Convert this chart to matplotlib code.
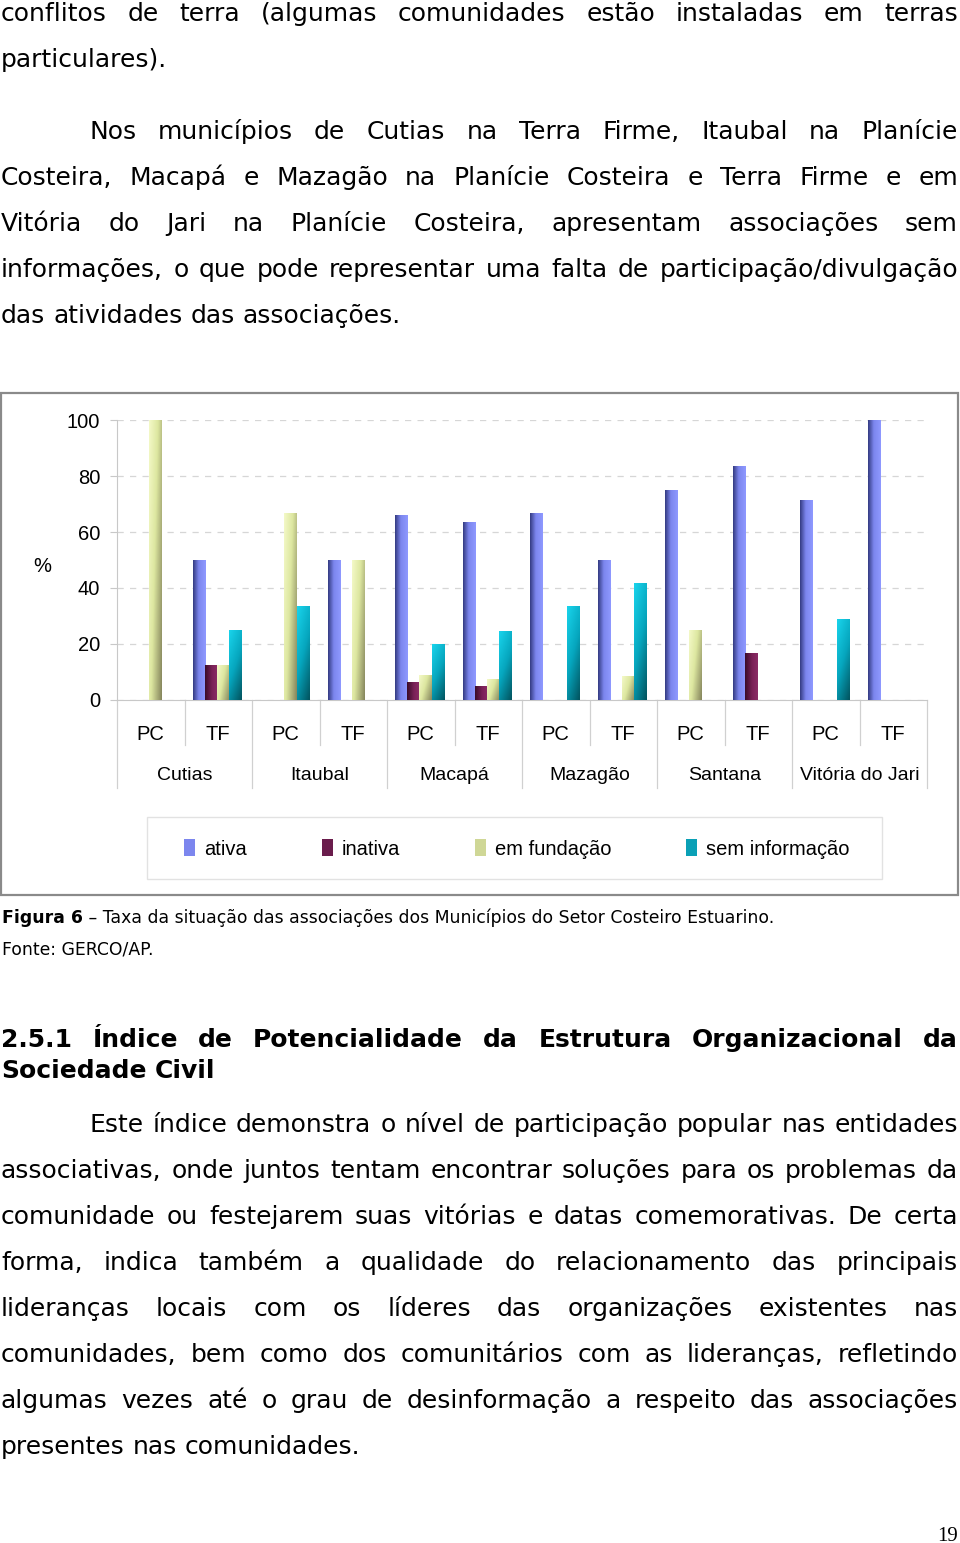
import numpy as np
import matplotlib
matplotlib.use("Agg")
import matplotlib.pyplot as plt
import matplotlib.transforms as mtransforms
from matplotlib.colors import LinearSegmentedColormap
from matplotlib.patches import Rectangle, Patch

# -----------------------------
# DATA (%)
# -----------------------------
municipios = ["Cutias", "Itaubal", "Macapá", "Mazagão", "Santana", "Vitória do Jari"]
setores = ["PC", "TF"]
series_names = ["ativa", "inativa", "em fundação", "sem informação"]

ativa = [0, 50, 0, 50, 66, 63.4, 66.7, 50, 75, 83.3, 71.4, 100]
inativa = [0, 12.5, 0, 0, 6.2, 5, 0, 0, 0, 16.7, 0, 0]
em_fundacao = [100, 12.5, 66.7, 50, 8.6, 7.5, 0, 8.4, 25, 0, 0, 0]
sem_informacao = [0, 25, 33.3, 0, 20, 24.4, 33.3, 41.7, 0, 0, 28.6, 0]

y_ticks = [0, 20, 40, 60, 80, 100]

# page text
par1 = ["conflitos de terra (algumas comunidades estão instaladas em terras",
        "particulares)."]
par2 = ["Nos municípios de Cutias na Terra Firme, Itaubal na Planície",
        "Costeira, Macapá e Mazagão na Planície Costeira e Terra Firme e em",
        "Vitória do Jari na Planície Costeira, apresentam associações sem",
        "informações, o que pode representar uma falta de participação/divulgação",
        "das atividades das associações."]
heading = ["2.5.1 Índice de Potencialidade da Estrutura Organizacional da",
           "Sociedade Civil"]
par3 = ["Este índice demonstra o nível de participação popular nas entidades",
        "associativas, onde juntos tentam encontrar soluções para os problemas da",
        "comunidade ou festejarem suas vitórias e datas comemorativas. De certa",
        "forma, indica também a qualidade do relacionamento das principais",
        "lideranças locais com os líderes das organizações existentes nas",
        "comunidades, bem como dos comunitários com as lideranças, refletindo",
        "algumas vezes até o grau de desinformação a respeito das associações",
        "presentes nas comunidades."]
caption_bold = "Figura 6"
caption_rest = " – Taxa da situação das associações dos Municípios do Setor Costeiro Estuarino."
fonte = "Fonte: GERCO/AP."

# -----------------------------
# FIGURE
# -----------------------------
W, H = 960, 1543
fig = plt.figure(figsize=(W / 100, H / 100), dpi=100)
fig.patch.set_facecolor("white")
renderer = fig.canvas.get_renderer()

BODY = "DejaVu Sans"
CHART = "Liberation Sans"
BODY_SIZE = 18


def fx(px):
    return px / W


def fy(py):
    return 1 - py / H


def text_width(s, **kw):
    t = fig.text(0, 0, s, **kw)
    w = t.get_window_extent(renderer).width
    t.remove()
    return w


def put_line(s, y_base, x0=2, x1=958, justify=True, size=BODY_SIZE, weight="normal"):
    words = s.split()
    kw = dict(fontsize=size, family=BODY, weight=weight, va="baseline", ha="left")
    arts = [fig.text(0, fy(y_base), w, **kw) for w in words]
    widths = [a.get_window_extent(renderer).width for a in arts]
    if justify and len(words) > 1:
        gap = (x1 - x0 - sum(widths)) / (len(words) - 1)
    else:
        gap = text_width("a a", **kw) - text_width("aa", **kw)
    x = x0
    for a, w in zip(arts, widths):
        a.set_x(fx(x))
        x += w + gap


def put_paragraph(lines, y0, indent=88, step=46, size=BODY_SIZE, weight="normal"):
    for i, s in enumerate(lines):
        last = i == len(lines) - 1
        put_line(s, y0 + i * step, x0=1 + (indent if i == 0 else 0),
                 justify=not last, size=size, weight=weight)


put_paragraph(par1, 21, indent=0)
put_paragraph(par2, 139)
put_paragraph(heading, 1047, indent=0, step=31, weight="bold")
put_paragraph(par3, 1132)

# caption
cap_kw = dict(family=BODY, va="baseline", ha="left")
full_w = text_width(caption_bold + caption_rest, fontsize=10, **cap_kw)
cap_size = 10 * 758 / full_w
b = fig.text(fx(2), fy(923), caption_bold, fontsize=cap_size, weight="bold", **cap_kw)
bw = b.get_window_extent(renderer).width
fig.text(fx(2 + bw), fy(923), caption_rest, fontsize=cap_size, **cap_kw)
fig.text(fx(2), fy(954), fonte, fontsize=cap_size, **cap_kw)

# page number
fig.text(fx(958), fy(1541), "19", fontsize=15, family="Liberation Serif",
         ha="right", va="baseline")

# -----------------------------
# CHART FRAME + LEGEND FRAME
# -----------------------------
fig.patches.append(Rectangle((fx(1), fy(895)), fx(958) - fx(1), fy(393) - fy(895),
                             transform=fig.transFigure, fill=False,
                             edgecolor="#8a8a8a", lw=1.6))
fig.patches.append(Rectangle((fx(147), fy(879)), fx(882) - fx(147), fy(817) - fy(879),
                             transform=fig.transFigure, fill=False,
                             edgecolor="#e2e2e2", lw=1.0))
fig.text(fx(42), fy(567), "%", fontsize=14.5, family=CHART, ha="center", va="center")

# -----------------------------
# AXES
# -----------------------------
ax = fig.add_axes([fx(117), fy(700), fx(927) - fx(117), fy(420) - fy(700)])
n = len(ativa)
x = np.arange(n)
bw_ = 0.18
offsets = np.array([-1.5, -0.5, 0.5, 1.5]) * bw_ - 0.02

gradients = [
    ("h", [(0, "#343b82"), (0.45, "#7c86ee"), (1, "#8f99ff")]),
    ("h", [(0, "#3a0c28"), (0.55, "#7a2157"), (1, "#8c2c66")]),
    ("d", [(0, "#f4f9c8"), (0.45, "#dde7a0"), (1, "#85855c")]),
    ("v", [(0, "#19d4ec"), (0.5, "#06a6be"), (1, "#02535e")]),
]
base_cols = ["#6f79e0", "#6a1c4c", "#cfd796", "#0aa0b6"]


def grad_image(kind, stops):
    cmap = LinearSegmentedColormap.from_list("g", stops)
    u = np.linspace(0, 1, 48)
    uu, vv = np.meshgrid(u, u)  # vv: 0 top, 1 bottom
    if kind == "h":
        t = uu
    elif kind == "d":
        t = 0.65 * uu + 0.35 * vv
    else:
        t = 0.35 * uu + 0.65 * vv
    return cmap(t)


for k, vals in enumerate([ativa, inativa, em_fundacao, sem_informacao]):
    bars = ax.bar(x + offsets[k], vals, width=bw_, color=base_cols[k],
                  edgecolor="none", zorder=3)
    img = grad_image(*gradients[k])
    for p in bars.patches:
        h = p.get_height()
        if h <= 0:
            continue
        x0 = p.get_x()
        ax.imshow(img, extent=(x0, x0 + p.get_width(), 0, h), aspect="auto",
                  origin="upper", clip_path=p, zorder=3.1, interpolation="bilinear")

ax.set_aspect("auto")
ax.set_xlim(-0.5, n - 0.5)
ax.set_ylim(0, 100)
ax.set_yticks(y_ticks)
ax.set_xticks([])
ax.tick_params(axis="y", length=5, color="#c8c8c8", pad=7, labelsize=14.5)
for lab in ax.get_yticklabels():
    lab.set_family(CHART)
ax.yaxis.grid(True, color="#d6d6d6", lw=0.9, dashes=(5, 5), zorder=0)
for s in ["top", "right"]:
    ax.spines[s].set_visible(False)
ax.spines["left"].set_color("#c8c8c8")
ax.spines["bottom"].set_color("#c8c8c8")

# category separators and labels below the axis
trans = mtransforms.blended_transform_factory(ax.transData, ax.transAxes)
for i in range(n + 1):
    xb = i - 0.5
    y_end = -88 / 280 if i % 2 == 0 else -45 / 280
    ax.plot([xb, xb], [0, y_end], transform=trans, color="#d0d0d0", lw=0.9,
            clip_on=False)
for i in range(n):
    ax.text(i, -35 / 280, setores[i % 2], transform=trans, ha="center", va="center",
            fontsize=14.5, family=CHART)
for j, m in enumerate(municipios):
    ax.text(2 * j + 0.5, -76 / 280, m, transform=trans, ha="center", va="center",
            fontsize=14, family=CHART)

# legend
handles = [Patch(facecolor=c, edgecolor="none") for c in ["#7c86ee", "#6a1c4c", "#cfd796", "#0aa0b6"]]
leg = fig.legend(handles, series_names, loc="center", bbox_to_anchor=(fx(517), fy(849)),
                 ncol=4, frameon=False, prop={"family": CHART, "size": 14.5},
                 handlelength=0.55, handleheight=0.85, handletextpad=0.45,
                 columnspacing=3.7)

fig.savefig("out.png", dpi=100)
